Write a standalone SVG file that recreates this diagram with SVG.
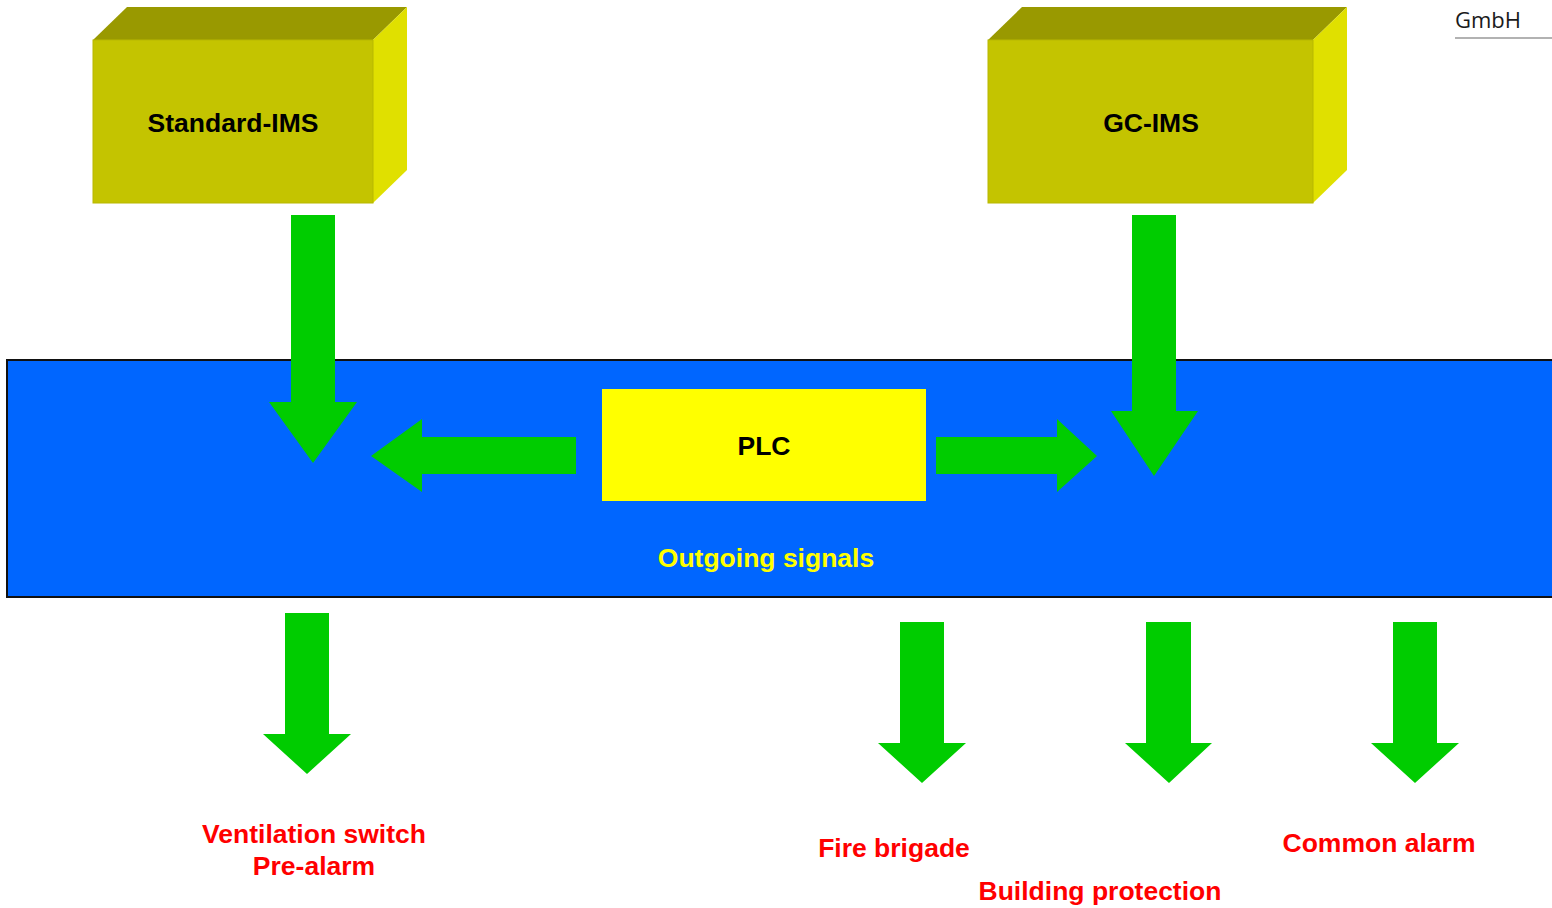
<svg xmlns="http://www.w3.org/2000/svg" width="1552" height="908" viewBox="0 0 1552 908">
<style>
.front{fill:#C4C400;stroke:#B8B800;stroke-width:1}
.top{fill:#999900}
.side{fill:#E0E000}
.arrow{fill:#00CC00}
.lbl{font-family:"Liberation Sans",Arial,sans-serif;font-weight:bold;font-size:26.5px;text-anchor:middle}
.red{fill:#FF0000}
</style>
<rect width="1552" height="908" fill="#FFFFFF"/>
<g id="gmbh">
<text x="1455" y="28" font-family="'Open Sans','Liberation Sans',sans-serif" font-size="22" fill="#1a1a1a">GmbH</text>
<line x1="1455" y1="38" x2="1552" y2="38" stroke="#999" stroke-width="1.5"/>
</g>
<g id="band">
<rect x="7" y="360" width="1550" height="237" fill="#0066FF" stroke="#111" stroke-width="2"/>
<text class="lbl" x="766" y="567" fill="#FFFF00">Outgoing signals</text>
</g>
<g id="standard-ims">
<polygon class="top" points="93,40 127,7 407,7 373,40"/>
<polygon class="side" points="373,40 407,7 407,170 373,203"/>
<rect class="front" x="93" y="40" width="280" height="163"/>
<text class="lbl" x="233" y="132" fill="#000">Standard-IMS</text>
</g>
<g id="gc-ims">
<polygon class="top" points="988,40 1022,7 1347,7 1313,40"/>
<polygon class="side" points="1313,40 1347,7 1347,170 1313,203"/>
<rect class="front" x="988" y="40" width="325" height="163"/>
<text class="lbl" x="1151" y="132" fill="#000">GC-IMS</text>
</g>
<g id="plc">
<rect x="602" y="389" width="324" height="112" fill="#FFFF00"/>
<text class="lbl" x="764" y="455" fill="#000">PLC</text>
</g>
<g id="connectors">
<polygon class="arrow" points="291,215 335,215 335,402 357,402 313,463 269,402 291,402"/>
<polygon class="arrow" points="1132,215 1176,215 1176,411 1198,411 1154,476 1111,411 1132,411"/>
<polygon class="arrow" points="576,437 422,437 422,419 371,456 422,492 422,474 576,474"/>
<polygon class="arrow" points="936,437 1057,437 1057,419 1097,456 1057,492 1057,474 936,474"/>
<polygon class="arrow" points="285,613 329,613 329,734 351,734 307,774 263,734 285,734"/>
<polygon class="arrow" points="900,622 944,622 944,743 966,743 922,783 878,743 900,743"/>
<polygon class="arrow" points="1146,622 1191,622 1191,743 1212,743 1169,783 1125,743 1146,743"/>
<polygon class="arrow" points="1393,622 1437,622 1437,743 1459,743 1415,783 1371,743 1393,743"/>
</g>
<g id="outputs">
<text class="lbl red" x="314" y="843">Ventilation switch</text>
<text class="lbl red" x="314" y="875">Pre-alarm</text>
<text class="lbl red" x="894" y="857">Fire brigade</text>
<text class="lbl red" x="1100" y="900">Building protection</text>
<text class="lbl red" x="1379" y="852">Common alarm</text>
</g>
</svg>
